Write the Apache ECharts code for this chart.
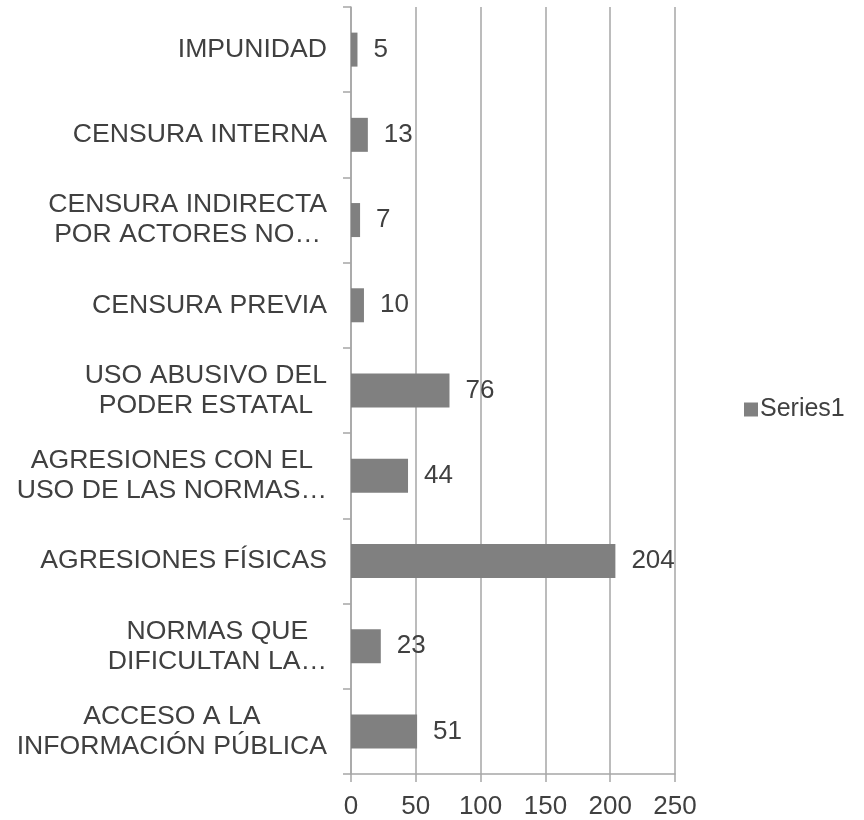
<!DOCTYPE html>
<html lang="es">
<head>
    <meta charset="UTF-8">
    <title>Series1</title>
    <script src="https://cdn.jsdelivr.net/npm/echarts@6/dist/echarts.min.js"></script>
</head>
<body style="margin:0">
    <div id="main" style="width: 864px; height: 820px"></div>
    <script>
        // categorias de abajo hacia arriba
        var categorias = [
            'ACCESO A LA\nINFORMACIÓN PÚBLICA',
            'NORMAS QUE\nDIFICULTAN LA…',
            'AGRESIONES FÍSICAS',
            'AGRESIONES CON EL\nUSO DE LAS NORMAS…',
            'USO ABUSIVO DEL\nPODER ESTATAL',
            'CENSURA PREVIA',
            'CENSURA INDIRECTA\nPOR ACTORES NO…',
            'CENSURA INTERNA',
            'IMPUNIDAD'
        ];
        var valores = [51, 23, 204, 44, 76, 10, 7, 13, 5];
        var nombreSerie = 'Series1';
        var ejeX = { min: 0, max: 250, interval: 50 };

        var gris = '#a6a6a6';
        var texto = '#404040';
        var fuente = '"Liberation Sans", Arial, sans-serif';

        var mychart = echarts.init(document.getElementById('main'));

        var option = {
            animation: false,
            textStyle: { fontFamily: fuente },
            grid: { left: 351, right: 189, top: 7, bottom: 44 },
            legend: {
                data: [nombreSerie],
                left: 739,
                top: 392,
                icon: 'rect',
                itemWidth: 14,
                itemHeight: 14,
                itemGap: 10,
                textStyle: { fontSize: 25, color: texto, fontFamily: fuente, padding: [0, 0, 0, -3] }
            },
            xAxis: {
                type: 'value',
                min: ejeX.min,
                max: ejeX.max,
                interval: ejeX.interval,
                axisLine: { show: true, lineStyle: { color: gris, width: 1.5 } },
                axisTick: { show: true, length: 8, lineStyle: { color: gris, width: 1.5 } },
                axisLabel: { fontSize: 26, color: texto, margin: 20, fontFamily: fuente },
                splitLine: { show: true, lineStyle: { color: gris, width: 1.5 } }
            },
            yAxis: {
                type: 'category',
                data: categorias,
                axisLine: { show: true, lineStyle: { color: gris, width: 1.5 } },
                axisTick: { show: true, length: 8, lineStyle: { color: gris, width: 1.5 } },
                axisLabel: {
                    margin: 24,
                    formatter: function (v) {
                        return v.split('\n').map(function (s) { return '{c|' + s + '}'; }).join('\n');
                    },
                    rich: {
                        c: { align: 'center', fontSize: 26.6, lineHeight: 30, color: texto, fontFamily: fuente }
                    }
                }
            },
            series: [{
                name: nombreSerie,
                type: 'bar',
                data: valores,
                barWidth: 34,
                itemStyle: { color: '#808080' },
                label: {
                    show: true,
                    position: 'right',
                    distance: 16,
                    fontSize: 26,
                    color: texto,
                    fontFamily: fuente
                }
            }]
        };

        mychart.setOption(option);
    </script>
</body>
</html>
